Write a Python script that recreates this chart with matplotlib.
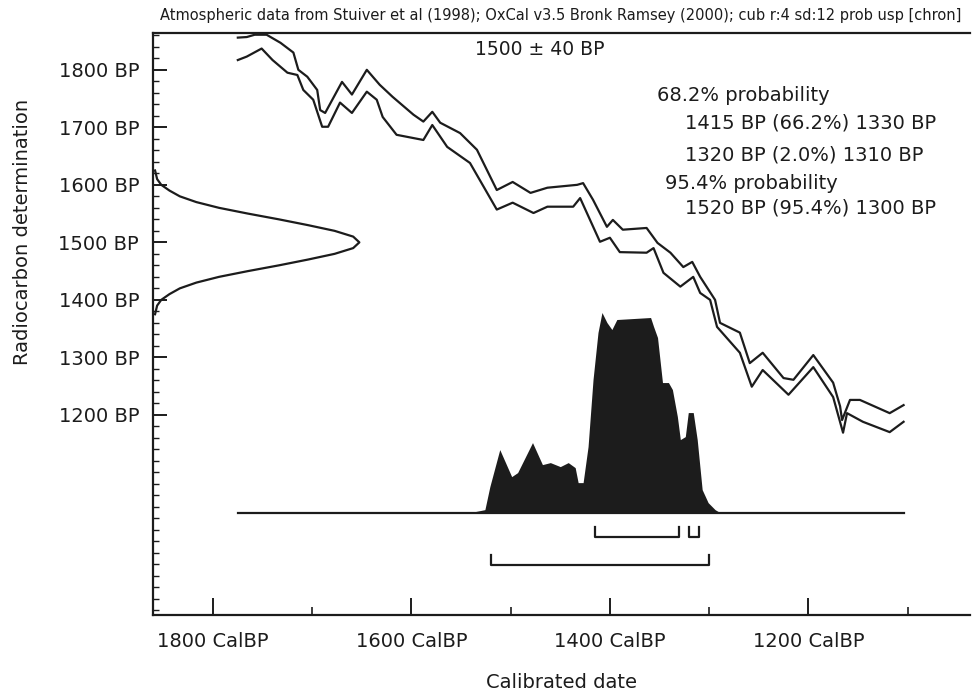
import matplotlib.pyplot as plt
import numpy as np

# calibration curve, upper and lower envelope (cal BP, radiocarbon BP)
upper_cal = [1775, 1766, 1758, 1746, 1732, 1719, 1714, 1705, 1695, 1692, 1687, 1670, 1660,
             1645, 1632, 1619, 1598, 1588, 1579, 1571, 1551, 1534, 1514, 1498, 1480, 1463,
             1433, 1427, 1417, 1403, 1397, 1387, 1363, 1352, 1339, 1326, 1317, 1309, 1294,
             1289, 1269, 1259, 1246, 1225, 1215, 1195, 1175, 1168, 1166, 1158, 1148, 1118, 1104]
upper_rc = [1856, 1857, 1861, 1861, 1847, 1830, 1800, 1788, 1765, 1730, 1725, 1779, 1757,
            1800, 1774, 1753, 1722, 1710, 1727, 1708, 1690, 1661, 1591, 1605, 1586, 1595,
            1600, 1603, 1574, 1527, 1539, 1522, 1525, 1499, 1482, 1457, 1466, 1440, 1400,
            1360, 1343, 1290, 1308, 1264, 1261, 1304, 1256, 1215, 1191, 1226, 1226, 1203, 1217]

lower_cal = [1775, 1766, 1751, 1740, 1725, 1715, 1709, 1699, 1690, 1684, 1672, 1660, 1645,
             1635, 1629, 1615, 1588, 1579, 1564, 1541, 1514, 1498, 1477, 1463, 1437, 1430,
             1410, 1400, 1390, 1363, 1356, 1346, 1329, 1316, 1309, 1299, 1292, 1269, 1257,
             1246, 1220, 1195, 1175, 1165, 1161, 1145, 1118, 1104]
lower_rc = [1817, 1823, 1837, 1817, 1795, 1791, 1765, 1748, 1701, 1701, 1743, 1725, 1762,
            1748, 1718, 1687, 1678, 1704, 1666, 1638, 1557, 1569, 1551, 1562, 1562, 1577,
            1501, 1508, 1483, 1482, 1490, 1447, 1423, 1440, 1412, 1400, 1353, 1308, 1249,
            1278, 1235, 1283, 1231, 1169, 1203, 1188, 1170, 1188]

# radiocarbon measurement 1500 +- 40 BP, relative height
prior_rc = [1625, 1610, 1600, 1590, 1580, 1570, 1560, 1550, 1540, 1530, 1520, 1510, 1500,
            1490, 1480, 1470, 1460, 1450, 1440, 1430, 1420, 1410, 1400, 1390, 1375]
prior_rel = [0.01, 0.02, 0.04, 0.08, 0.13, 0.21, 0.32, 0.46, 0.61, 0.75, 0.88, 0.97, 1.0,
             0.97, 0.88, 0.75, 0.61, 0.46, 0.32, 0.21, 0.13, 0.08, 0.04, 0.02, 0.01]

# calibrated probability distribution, relative height
post_cal = [1545, 1536, 1526, 1521, 1511, 1499, 1493, 1478, 1468, 1460, 1450, 1442, 1435,
            1432, 1427, 1422, 1417, 1412, 1408, 1403, 1398, 1393, 1359, 1356, 1352, 1347,
            1341, 1337, 1332, 1329, 1324, 1321, 1316, 1312, 1307, 1301, 1294, 1289]
post_p = [0, 0.005, 0.015, 0.13, 0.315, 0.18, 0.2, 0.35, 0.24, 0.25, 0.23, 0.25, 0.225,
          0.15, 0.15, 0.33, 0.665, 0.9, 1.0, 0.95, 0.915, 0.965, 0.975, 0.93, 0.875, 0.65,
          0.65, 0.615, 0.48, 0.365, 0.38, 0.5, 0.5, 0.365, 0.115, 0.05, 0.015, 0]

range68 = [(1415, 1330), (1320, 1310)]
range95 = [(1520, 1300)]

title = ("Atmospheric data from Stuiver et al (1998); OxCal v3.5 Bronk Ramsey (2000); "
         "cub r:4 sd:12 prob usp [chron]")
notes = ["68.2% probability", "1415 BP (66.2%) 1330 BP", "1320 BP (2.0%) 1310 BP",
         "95.4% probability", "1520 BP (95.4%) 1300 BP"]

ink = "#1c1c1c"
XL, XR = 1860.5, 1037
YB, YT = 852, 1864
HIST_BASE = 1030
HIST_SCALE = 348
PRIOR_W = 208

plt.rcParams['font.family'] = ['DejaVu Sans']
fig = plt.figure(figsize=(9.72, 6.98), dpi=100)
ax = fig.add_axes([0.1574, 0.1189, 0.998 - 0.1574, 0.9527 - 0.1189])
ax.set_xlim(XL, XR)
ax.set_ylim(YB, YT)

ax.plot(upper_cal, upper_rc, color=ink, lw=1.6)
ax.plot(lower_cal, lower_rc, color=ink, lw=1.6)

ax.plot(XL - PRIOR_W * np.array(prior_rel), prior_rc, color=ink, lw=1.6, clip_on=False)

ax.fill_between(post_cal, HIST_BASE, HIST_BASE + HIST_SCALE * np.array(post_p),
                color=ink, lw=0)
ax.plot([max(upper_cal), min(upper_cal)], [HIST_BASE, HIST_BASE], color=ink, lw=1.6)

def range_bar(a, b, y):
    ax.plot([a, a, b, b], [y + 17, y, y, y + 17], color=ink, lw=1.6)

for a, b in range68:
    range_bar(a, b, 988)
for a, b in range95:
    range_bar(a, b, 939)

# axes styling
ax.spines['right'].set_visible(False)
for s in ['left', 'bottom', 'top']:
    ax.spines[s].set_linewidth(1.6)
    ax.spines[s].set_color(ink)

ax.set_xticks([1800, 1600, 1400, 1200])
ax.set_xticklabels(["1800 CalBP", "1600 CalBP", "1400 CalBP", "1200 CalBP"])
ax.set_xticks([1700, 1500, 1300, 1100], minor=True)
ax.set_yticks([1200, 1300, 1400, 1500, 1600, 1700, 1800])
ax.set_yticklabels(["1200 BP", "1300 BP", "1400 BP", "1500 BP", "1600 BP", "1700 BP", "1800 BP"])
ax.set_yticks(np.arange(860, 1861, 20), minor=True)

ax.tick_params(axis='x', which='major', direction='in', length=12, width=1.4,
               color=ink, pad=12, labelsize=14, labelcolor=ink)
ax.tick_params(axis='x', which='minor', direction='in', length=6, width=1.2, color=ink)
ax.tick_params(axis='y', which='major', direction='in', length=10, width=1.4,
               color=ink, pad=10, labelsize=14, labelcolor=ink)
ax.tick_params(axis='y', which='minor', direction='in', length=4, width=1.0, color=ink)

ax.set_xlabel("Calibrated date", fontsize=14, color=ink, labelpad=16)
ax.set_ylabel("Radiocarbon determination", fontsize=14, color=ink)
ax.yaxis.set_label_coords(-0.148, 0.658)

fig.text(0.577, 0.978, title, ha='center', va='center', fontsize=10.5, color=ink)

ax.text(0.394, 0.971, "1500 \u00b1 40 BP", transform=ax.transAxes, fontsize=13.5,
        ha='left', va='center', color=ink)
note_x = [0.617, 0.651, 0.651, 0.627, 0.651]
note_y = [0.893, 0.845, 0.790, 0.742, 0.699]
for t, x, y in zip(notes, note_x, note_y):
    ax.text(x, y, t, transform=ax.transAxes, fontsize=14, ha='left', va='center', color=ink)

fig.savefig("out.png", dpi=100)
